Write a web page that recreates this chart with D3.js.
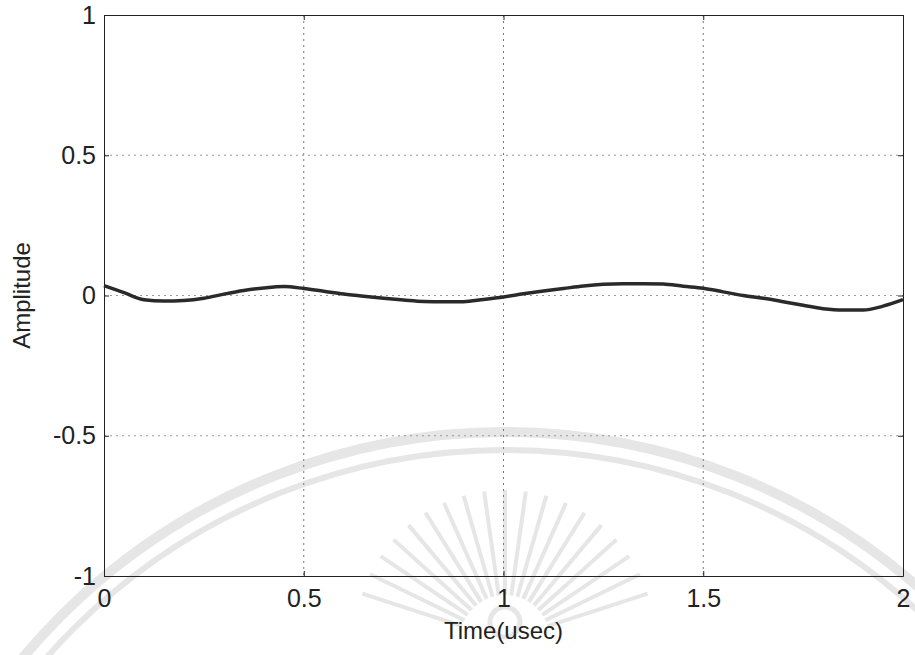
<!DOCTYPE html>
<html>
<head>
<meta charset="utf-8">
<script src="https://cdn.jsdelivr.net/npm/d3@7"></script>
<style>
  html, body { margin: 0; padding: 0; background: #fff; }
  svg text { font-family: "Liberation Sans", Arial, sans-serif; fill: #222; }
</style>
</head>
<body>
<svg id="chart" width="915" height="655"></svg>
<script>
// Sampled signal: time in microseconds, amplitude
const timeUsec = [0, 0.05, 0.1, 0.15, 0.2, 0.25, 0.3, 0.35, 0.4, 0.45,
  0.5, 0.55, 0.6, 0.65, 0.7, 0.75, 0.8, 0.85, 0.9, 0.95,
  1.0, 1.05, 1.1, 1.15, 1.2, 1.25, 1.3, 1.35, 1.4, 1.45,
  1.5, 1.55, 1.6, 1.65, 1.7, 1.75, 1.8, 1.85, 1.9, 1.95, 2.0];
const amplitude = [0.035, 0.01, -0.015, -0.02, -0.018, -0.01, 0.005, 0.018, 0.027, 0.032,
  0.025, 0.015, 0.005, -0.003, -0.01, -0.016, -0.021, -0.022, -0.022, -0.014,
  -0.005, 0.006, 0.016, 0.025, 0.034, 0.04, 0.042, 0.042, 0.041, 0.033,
  0.026, 0.013, 0.0, -0.01, -0.022, -0.035, -0.047, -0.052, -0.052, -0.038, -0.015];

const xTicks = [0, 0.5, 1, 1.5, 2];
const yTicks = [-1, -0.5, 0, 0.5, 1];
const xTickLabels = ["0", "0.5", "1", "1.5", "2"];
const yTickLabels = ["-1", "-0.5", "0", "0.5", "1"];
const xTitle = "Time(usec)";
const yTitle = "Amplitude";

const svg = d3.select("#chart");
const plotL = 104, plotR = 903, plotT = 15, plotB = 576;

const x = d3.scaleLinear().domain([0, 2]).range([plotL, plotR]);
const y = d3.scaleLinear().domain([-1, 1]).range([plotB, plotT]);

// faint emblem in the background
const emb = svg.append("g").attr("fill", "none").attr("stroke", "#e6e6e6");
const ecx = 505, ecy = 1060;
emb.append("circle").attr("cx", ecx).attr("cy", ecy).attr("r", 628).attr("stroke-width", 10);
emb.append("circle").attr("cx", ecx).attr("cy", ecy).attr("r", 610).attr("stroke-width", 6);
const rays = d3.range(-72, 73, 8);
emb.selectAll("line.ray").data(rays).join("line")
  .attr("class", "ray")
  .attr("x1", d => 505 + 45 * Math.sin(d * Math.PI / 180))
  .attr("y1", d => 640 - 45 * Math.cos(d * Math.PI / 180))
  .attr("x2", d => 505 + 150 * Math.sin(d * Math.PI / 180))
  .attr("y2", d => 640 - 150 * Math.cos(d * Math.PI / 180))
  .attr("stroke-width", 4);
emb.append("circle").attr("cx", 505).attr("cy", 622).attr("r", 15).attr("stroke-width", 5);

// grid
const grid = svg.append("g").attr("stroke", "#777").attr("stroke-width", 1)
  .attr("stroke-dasharray", "2,4");
grid.selectAll("line.gx").data(xTicks.slice(1, -1)).join("line")
  .attr("x1", d => x(d)).attr("x2", d => x(d)).attr("y1", plotT).attr("y2", plotB);
grid.selectAll("line.gy").data(yTicks.slice(1, -1)).join("line")
  .attr("stroke", "#999")
  .attr("y1", d => y(d)).attr("y2", d => y(d)).attr("x1", plotL).attr("x2", plotR);

// axes with inward ticks on all four sides
const fmtX = (d, i) => xTickLabels[i];
const fmtY = (d, i) => yTickLabels[i];
const axB = svg.append("g").attr("transform", `translate(0,${plotB})`)
  .call(d3.axisBottom(x).tickValues(xTicks).tickFormat(fmtX).tickSizeInner(-5).tickSizeOuter(0).tickPadding(13));
const axL = svg.append("g").attr("transform", `translate(${plotL},0)`)
  .call(d3.axisLeft(y).tickValues(yTicks).tickFormat(fmtY).tickSizeInner(-5).tickSizeOuter(0).tickPadding(8));
const axT = svg.append("g").attr("transform", `translate(0,${plotT})`)
  .call(d3.axisTop(x).tickValues(xTicks).tickFormat("").tickSizeInner(-5).tickSizeOuter(0));
const axR = svg.append("g").attr("transform", `translate(${plotR},0)`)
  .call(d3.axisRight(y).tickValues(yTicks).tickFormat("").tickSizeInner(-5).tickSizeOuter(0));
[axB, axL, axT, axR].forEach(a => {
  a.selectAll("path.domain").attr("stroke", "#222");
  a.selectAll(".tick line").attr("stroke", "#222");
  a.selectAll("text").attr("font-size", 25).attr("font-family", "Liberation Sans, Arial, sans-serif").attr("fill", "#2a2a2a");
});

// signal line
const line = d3.line().x((d, i) => x(timeUsec[i])).y(d => y(d)).curve(d3.curveMonotoneX);
svg.append("path").datum(amplitude)
  .attr("d", line).attr("fill", "none").attr("stroke", "#2a2a2a").attr("stroke-width", 3.5);

// axis titles
svg.append("text").attr("x", (plotL + plotR) / 2).attr("y", 639)
  .attr("text-anchor", "middle").attr("font-size", 24).attr("fill", "#2a2a2a").text(xTitle);
svg.append("text").attr("transform", `translate(30,${(plotT + plotB) / 2}) rotate(-90)`)
  .attr("text-anchor", "middle").attr("font-size", 24).attr("fill", "#2a2a2a").text(yTitle);
</script>
</body>
</html>
